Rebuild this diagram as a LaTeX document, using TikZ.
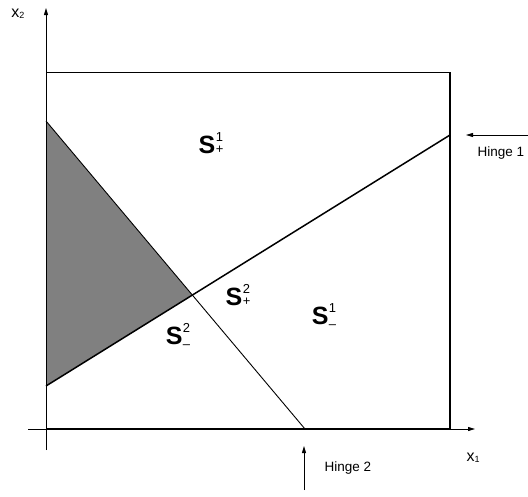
\documentclass[tikz,border=0pt]{standalone}
\usepackage{fontspec}
\setmainfont{Liberation Sans}
\usetikzlibrary{arrows.meta}
\definecolor{regiongray}{RGB}{128,128,128}
\newcommand{\SL}[3][0pt]{S\kern0.5pt\raisebox{-#1}{\fontsize{13}{12}\selectfont\mdseries\begin{tabular}[b]{@{}l@{}}#2\\[#1]#3\end{tabular}}}
\begin{document}
\begin{tikzpicture}[x=1pt,y=-1pt,
  axis/.style={line width=0.9pt,-{Triangle[length=7pt,width=4pt]}},
  boxline/.style={line width=1.6pt},
  hingeone/.style={line width=1.5pt},
  hingetwo/.style={line width=0.9pt},
  pointer/.style={line width=0.9pt,-{Triangle[length=7pt,width=4pt]}},
  lab/.style={font=\fontsize{13.5}{14}\selectfont, inner sep=0pt},
  slab/.style={font=\fontsize{25}{25}\selectfont\bfseries, inner sep=0pt}]
\useasboundingbox (0,0) rectangle (528,496);
% corners
\coordinate (BL) at (46,429);
\coordinate (BR) at (450,429);
\coordinate (TR) at (450,72);
\coordinate (TL) at (46,72);
% hinge end points
\coordinate (h1a) at (46,386);
\coordinate (h1b) at (450,135);
\coordinate (h2a) at (46,121);
\coordinate (h2b) at (305,429);
\coordinate (I) at (intersection of h1a--h1b and h2a--h2b);
% shaded region
\fill[regiongray] (h2a) -- (I) -- (h1a) -- cycle;
% axes
\coordinate (xs) at (28,429);
\coordinate (xe) at (475,429);
\coordinate (ys) at (46,450);
\coordinate (ye) at (46,8);
\draw[axis] (xs) -- (xe);
\draw[axis] (ys) -- (ye);
% box
\draw[line width=1pt] (BL) -- (TL) -- (TR);
\draw[boxline] (TR) -- (BR) -- (BL);
% hinges
\draw[hingeone] (h1a) -- (h1b);
\draw[hingetwo] (h2a) -- (h2b);
% pointer arrows
\coordinate (p1s) at (528,135);
\coordinate (p1e) at (466,135);
\coordinate (p2s) at (304,490);
\coordinate (p2e) at (304,446);
\draw[pointer] (p1s) -- (p1e);
\draw[pointer] (p2s) -- (p2e);
% labels
\node[lab] (hl1) at (501,153) {Hinge 1};
\node[lab] (hl2) at (348,468) {Hinge 2};
\node[lab,font=\fontsize{16}{16}\selectfont] (x1) at (473,458) {x\raisebox{-0.1ex}{\fontsize{9}{9}\selectfont 1}};
\node[lab,font=\fontsize{16}{16}\selectfont] (x2) at (18,14) {x\raisebox{-0.1ex}{\fontsize{9}{9}\selectfont 2}};
\node[slab] (s1p) at (211,145) {\SL{1}{+}};
\node[slab] (s2p) at (238,297) {\SL{2}{+}};
\node[slab] (s1m) at (324,318) {\SL[4pt]{1}{–}};
\node[slab] (s2m) at (178,338) {\SL[4pt]{2}{–}};
\end{tikzpicture}
\end{document}
